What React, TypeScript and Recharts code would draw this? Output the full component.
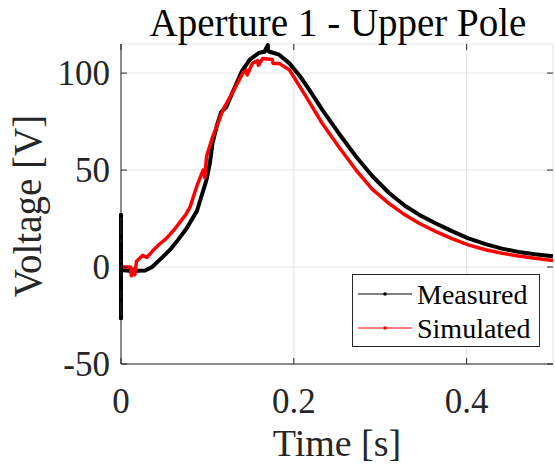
import React from 'react';
import {
  CartesianGrid,
  Label,
  Legend,
  Line,
  LineChart,
  XAxis,
  YAxis,
} from 'recharts';

const measuredTime = [
  0, 0, 0, 0, 0, 0, 0, 0, 0, 0, 0, 0, 0, 0, 0, 0.012, 0.028, 0.036, 0.049,
  0.058, 0.066, 0.076, 0.088, 0.099, 0.103, 0.106, 0.111, 0.116, 0.122, 0.129,
  0.14, 0.149, 0.16, 0.166, 0.17, 0.17, 0.172, 0.183, 0.195, 0.207, 0.218,
  0.233, 0.252, 0.272, 0.291, 0.31, 0.329, 0.345, 0.364, 0.383, 0.402, 0.422,
  0.441, 0.46, 0.479, 0.5,
];
const measuredVoltage = [
  0, 26.8, -26.3, 15.5, -17, 11.4, -10.8, 10.3, -9.3, 7.7, -7.7, 5.2, -5.7, 1,
  -1.5, -2, -1.8, 0, 5.5, 9.5, 14, 20, 29, 45, 54, 64, 73, 80, 82.5, 90, 101,
  107, 110.5, 111, 114.5, 111.5, 111, 109.5, 105, 98.5, 91.3, 81, 69, 57, 46.8,
  38.3, 31.5, 27, 22.6, 18.5, 14.8, 11.8, 9.5, 7.8, 6.6, 5.6,
];

const simulatedTime = [
  0, 0.011, 0.012, 0.014, 0.016, 0.018, 0.025, 0.03, 0.037, 0.045, 0.052,
  0.057, 0.062, 0.068, 0.075, 0.08, 0.088, 0.095, 0.097, 0.099, 0.106, 0.118,
  0.129, 0.141, 0.145, 0.146, 0.152, 0.158, 0.159, 0.164, 0.175, 0.176, 0.183,
  0.195, 0.214, 0.233, 0.252, 0.272, 0.291, 0.31, 0.329, 0.345, 0.364, 0.383,
  0.402, 0.422, 0.441, 0.46, 0.479, 0.5,
];
const simulatedVoltage = [
  0, 0, -4.5, -1, -4, 3, 6, 5, 8.5, 12, 14.5, 17, 19.5, 23, 27, 31, 42, 50, 46,
  57, 67, 81, 90, 100, 101.5, 99, 105, 106.5, 104, 107.5, 107, 105, 105, 101.6,
  88, 74, 62, 50, 40, 32.8, 26.8, 22.6, 18.4, 14.6, 11.4, 8.9, 7.1, 5.7, 4.5,
  3.4,
];

const xTicks = [0, 0.2, 0.4];
const yTicks = [-50, 0, 50, 100];

const measured = measuredTime.map((t, i) => ({ t, v: measuredVoltage[i] }));
const simulated = simulatedTime.map((t, i) => ({ t, v: simulatedVoltage[i] }));

const W = 555;
const H = 466;
const PLOT_LEFT = 121;
const PLOT_RIGHT = 553;
const PLOT_TOP = 44;
const PLOT_BOTTOM = 364;
const Y_AXIS_W = 60;
const X_AXIS_H = 40;
const FONT = '"Liberation Serif", "Times New Roman", serif';
const AXIS = '#262626';
const TICK_LEN = 6;

function XTick(props: any) {
  const { x, y, payload } = props;
  return (
    <g>
      <line x1={x} x2={x} y1={PLOT_BOTTOM} y2={PLOT_BOTTOM - TICK_LEN} stroke={AXIS} />
      <line x1={x} x2={x} y1={PLOT_TOP} y2={PLOT_TOP + TICK_LEN} stroke={AXIS} />
      <text x={x} y={y} dy="0.71em" textAnchor="middle" fill={AXIS} fontSize={35} fontFamily={FONT}>
        {String(payload.value)}
      </text>
    </g>
  );
}

function YTick(props: any) {
  const { x, y, payload } = props;
  return (
    <g>
      <line x1={PLOT_LEFT} x2={PLOT_LEFT + TICK_LEN} y1={y} y2={y} stroke={AXIS} />
      <line x1={PLOT_RIGHT} x2={PLOT_RIGHT - TICK_LEN} y1={y} y2={y} stroke={AXIS} />
      <text x={x} y={y} dy="0.34em" textAnchor="end" fill={AXIS} fontSize={35} fontFamily={FONT}>
        {String(payload.value)}
      </text>
    </g>
  );
}

// measured trace has a burst of noisy samples at t = 0, drawn with point markers
function SpikeDot(props: any) {
  const { cx, cy, payload, index } = props;
  if (payload.t !== 0) return <g key={index} />;
  return <circle key={index} cx={cx} cy={cy} r={2.2} fill="#000" />;
}

function LegendBox() {
  const rows = [
    { name: 'Measured', color: '#000000' },
    { name: 'Simulated', color: '#ff0000' },
  ];
  return (
    <svg width={188} height={73} style={{ display: 'block' }}>
      <rect x={0.5} y={0.5} width={187} height={72} fill="#fff" stroke={AXIS} />
      {rows.map((r, i) => {
        const cy = 20 + i * 34;
        return (
          <g key={r.name}>
            <line x1={6} x2={60} y1={cy} y2={cy} stroke={r.color} strokeWidth={1} />
            <circle cx={33} cy={cy} r={1.8} fill={r.color} />
            <text x={65} y={cy} dy="0.34em" fontSize={28} fontFamily={FONT} fill="#000">
              {r.name}
            </text>
          </g>
        );
      })}
    </svg>
  );
}

function YLabel(props: any) {
  const vb = props.viewBox || {};
  const cy = (vb.y ?? PLOT_TOP) + (vb.height ?? PLOT_BOTTOM - PLOT_TOP) / 2 + 2;
  const x = 41;
  return (
    <text
      x={x}
      y={cy}
      transform={`rotate(-90 ${x} ${cy})`}
      textAnchor="middle"
      fontSize={39}
      fontFamily={FONT}
      fill={AXIS}
    >
      Voltage [V]
    </text>
  );
}

export default function App() {
  return (
    <div style={{ position: 'fixed', left: 0, top: 0, width: W, height: H, background: '#fff' }}>
      <LineChart
        width={W}
        height={H}
        margin={{
          top: PLOT_TOP,
          right: W - PLOT_RIGHT,
          bottom: H - PLOT_BOTTOM - X_AXIS_H,
          left: PLOT_LEFT - Y_AXIS_W,
        }}
      >
        <CartesianGrid stroke="#e3e3e3" strokeWidth={1} />
        <XAxis
          dataKey="t"
          type="number"
          domain={[0, 0.5]}
          ticks={xTicks}
          height={X_AXIS_H}
          tickSize={0}
          tickMargin={24}
          tickLine={false}
          tick={<XTick />}
          stroke={AXIS}
          allowDuplicatedCategory={false}
        >
          <Label value="Time [s]" position="bottom" offset={25} fontSize={38} fontFamily={FONT} fill={AXIS} />
        </XAxis>
        <XAxis
          xAxisId="top"
          orientation="top"
          type="number"
          domain={[0, 0.5]}
          height={0}
          tick={false}
          tickLine={false}
          stroke={AXIS}
        />
        <YAxis
          type="number"
          domain={[-50, 115]}
          ticks={yTicks}
          width={Y_AXIS_W}
          tickSize={0}
          tickMargin={11}
          tickLine={false}
          tick={<YTick />}
          stroke={AXIS}
        >
          <Label content={<YLabel />} />
        </YAxis>
        <YAxis
          yAxisId="right"
          orientation="right"
          type="number"
          domain={[-50, 115]}
          width={0}
          tick={false}
          tickLine={false}
          stroke={AXIS}
        />
        <Legend
          layout="horizontal"
          align="center"
          verticalAlign="middle"
          content={<LegendBox />}
          wrapperStyle={{ left: 352, top: 274, width: 188, height: 73 }}
        />
        <Line
          data={measured}
          dataKey="v"
          name="Measured"
          type="linear"
          stroke="#000000"
          strokeWidth={4}
          strokeLinejoin="round"
          dot={<SpikeDot />}
          activeDot={false}
          isAnimationActive={false}
        />
        <Line
          data={simulated}
          dataKey="v"
          name="Simulated"
          type="linear"
          stroke="#ff0000"
          strokeWidth={3.5}
          strokeLinejoin="round"
          dot={false}
          activeDot={false}
          isAnimationActive={false}
        />
      </LineChart>
      <svg
        width={W}
        height={50}
        style={{ position: 'absolute', left: 0, top: 0, pointerEvents: 'none' }}
      >
        <text x={338} y={36} textAnchor="middle" fontSize={39} fontFamily={FONT} fill="#000">
          Aperture 1 - Upper Pole
        </text>
      </svg>
    </div>
  );
}
